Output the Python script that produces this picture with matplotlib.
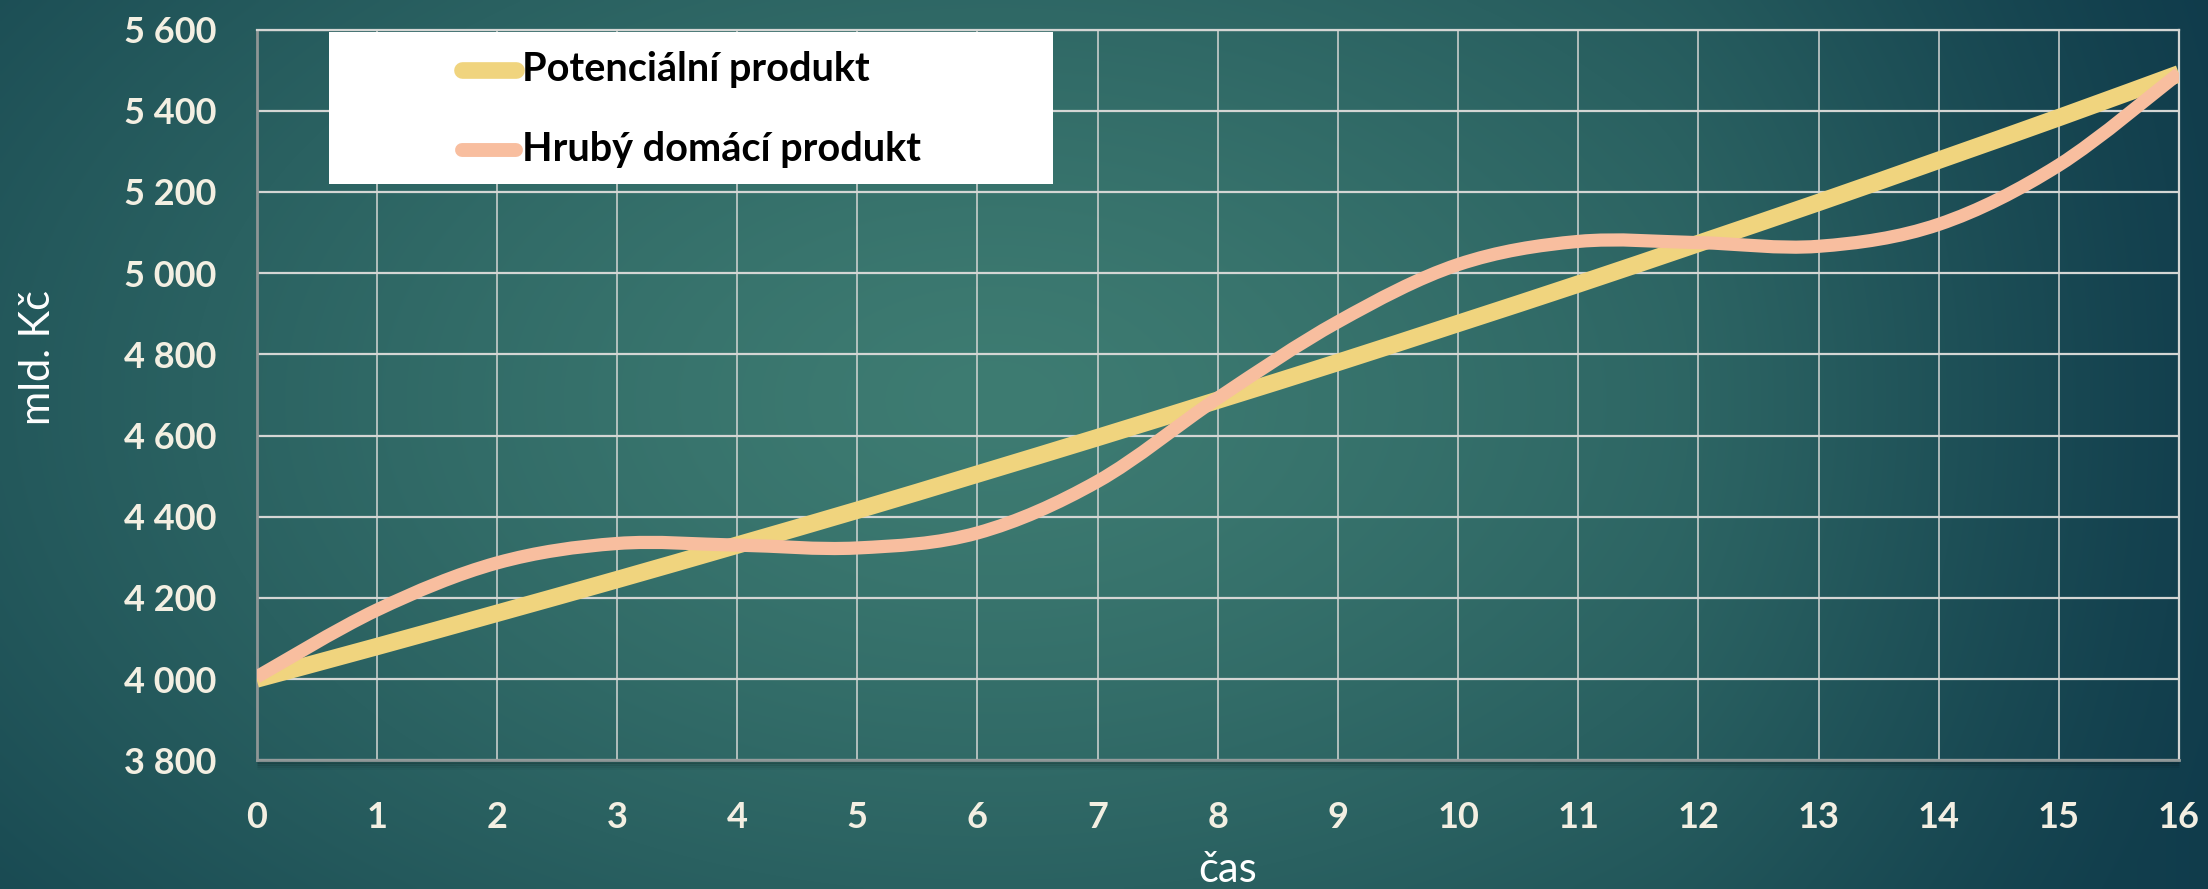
import numpy as np
import matplotlib
matplotlib.use("Agg")
import matplotlib.pyplot as plt
from matplotlib.path import Path
from matplotlib.patches import PathPatch, Rectangle
from matplotlib.lines import Line2D

# ---------------- data ----------------
casy = list(range(0, 17))
potencialni = [4000, 4080, 4162, 4245, 4330, 4416, 4505, 4595, 4687,
               4780, 4876, 4973, 5073, 5174, 5278, 5383, 5491]
hdp = [4005, 4170, 4286, 4334, 4330, 4323, 4360, 4487, 4692,
       4880, 5021, 5078, 5075, 5066, 5120, 5266, 5492]
series_names = ["Potenciální produkt", "Hrubý domácí produkt"]
y_ticks = list(range(3800, 5601, 200))
x_label = "čas"
y_label = "mld. Kč"

W, H = 2208, 889
fig = plt.figure(figsize=(W / 100, H / 100), dpi=100)

# ---------------- background gradient ----------------
bg = fig.add_axes([0, 0, 1, 1], zorder=-10)
bg.set_axis_off()
gy, gx = np.mgrid[0:1:300j, 0:1:700j]
cx, cy = 0.45, 0.45
d = np.sqrt(((gx - cx) / 0.62) ** 2 + ((gy - cy) / 0.95) ** 2)
t = np.clip(d, 0, 1) ** 1.3
center = np.array([62, 124, 114]) / 255.0
edge = np.array([22, 70, 80]) / 255.0
img = center[None, None, :] * (1 - t[..., None]) + edge[None, None, :] * t[..., None]
blue = np.array([14, 56, 74]) / 255.0
wr = np.clip((gx - 0.75) / 0.25, 0, 1) ** 1.5 * 0.7
img = img * (1 - wr[..., None]) + blue[None, None, :] * wr[..., None]
bg.imshow(img, extent=[0, 1, 0, 1], aspect="auto", origin="upper", interpolation="bilinear")
bg.set_xlim(0, 1)
bg.set_ylim(0, 1)

# ---------------- main axes ----------------
left, right, top, bottom = 256.5, 2179, 29.5, 760.3
ax = fig.add_axes([left / W, 1 - bottom / H, (right - left) / W, (bottom - top) / H])
ax.set_facecolor("none")
ax.set_xlim(0, 16)
ax.set_ylim(3800, 5600)

grid_c = "#D4D6D4"
ax.set_xticks(casy)
ax.set_yticks(y_ticks)
ax.set_yticklabels([f"{v:,}".replace(",", " ") for v in y_ticks])
ax.grid(axis="y", color=grid_c, lw=1.6, zorder=1)
ax.grid(axis="x", color=grid_c, lw=1.1, zorder=1)
ax.set_axisbelow(True)
for s in ["top", "right"]:
    ax.spines[s].set_color(grid_c)
    ax.spines[s].set_linewidth(1.6)
for s in ["left", "bottom"]:
    ax.spines[s].set_color("#8E9696")
    ax.spines[s].set_linewidth(2.0)

ax.tick_params(axis="both", length=0, colors="#F3EFE2")
ax.tick_params(axis="y", pad=29)
ax.tick_params(axis="x", pad=29)
for lab in ax.get_xticklabels() + ax.get_yticklabels():
    lab.set_fontfamily("Lato")
    lab.set_fontweight("bold")
    lab.set_fontsize(26)

# shadow under bottom axis
for i, a in enumerate([0.18, 0.12, 0.07, 0.03]):
    ax.plot([0, 16], [3800, 3800], color="black", alpha=a, lw=2,
            transform=ax.transData + matplotlib.transforms.ScaledTranslation(0, -(i + 1) * 2 / 100, fig.dpi_scale_trans),
            clip_on=False, zorder=0.5, solid_capstyle="butt")


def smooth_path(xs, ys):
    pts = np.column_stack([xs, ys]).astype(float)
    n = len(pts)
    verts = [pts[0]]
    codes = [Path.MOVETO]
    for i in range(n - 1):
        p_prev = pts[i - 1] if i > 0 else pts[i]
        p_next2 = pts[i + 2] if i + 2 < n else pts[i + 1]
        c1 = pts[i] + (pts[i + 1] - p_prev) / 6.0
        c2 = pts[i + 1] - (p_next2 - pts[i]) / 6.0
        verts += [c1, c2, pts[i + 1]]
        codes += [Path.CURVE4] * 3
    return Path(verts, codes)


yellow = "#F0D47E"
pink = "#F8BE9F"
ax.add_patch(PathPatch(smooth_path(casy, potencialni), fill=False, edgecolor=yellow,
                       lw=12.5, capstyle="butt", joinstyle="round", zorder=3))
ax.add_patch(PathPatch(smooth_path(casy, hdp), fill=False, edgecolor=pink,
                       lw=9.5, capstyle="butt", joinstyle="round", zorder=4))

# ---------------- axis titles ----------------
fig.text(1228 / W, 1 - 870 / H, x_label, ha="center", va="center", fontsize=30,
         family="Lato", weight="normal", color="#FFFFFF")
fig.text(38 / W, 1 - 358 / H, y_label, ha="center", va="center", rotation=90, fontsize=30,
         family="Lato", weight="normal", color="#FFFFFF")

# ---------------- legend ----------------
fig.add_artist(Rectangle((329 / W, 1 - 184 / H), (1053 - 329) / W, (184 - 32) / H,
                         transform=fig.transFigure, facecolor="white", edgecolor="none", zorder=5))
leg_rows = [(70, yellow, 12.0), (150, pink, 10.0)]
for (yc, col, lw), name in zip(leg_rows, series_names):
    fig.add_artist(Line2D([462 / W, 516 / W], [1 - yc / H, 1 - yc / H], transform=fig.transFigure,
                          color=col, lw=lw, solid_capstyle="round", zorder=6))
    fig.text(522 / W, 1 - yc / H, name, ha="left", va="center", fontsize=28.5,
             family="Lato", weight="bold", color="black", zorder=7)

fig.savefig("out.png", dpi=100)
